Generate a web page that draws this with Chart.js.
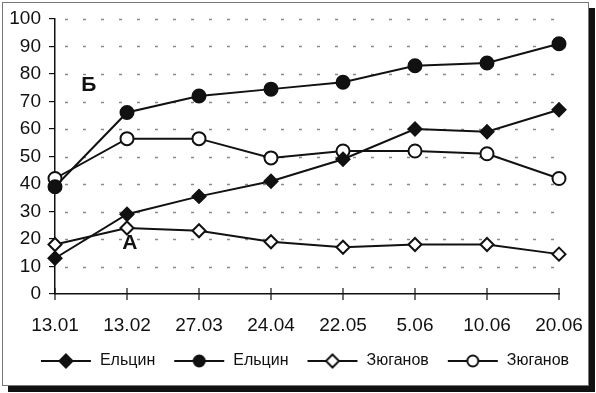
<!DOCTYPE html>
<html>
<head>
<meta charset="utf-8">
<script src="https://cdn.jsdelivr.net/npm/chart.js@4/dist/chart.umd.min.js"></script>
<style>
  html, body { margin: 0; padding: 0; background: #fff; }
  #frame {
    position: absolute; left: 2px; top: 2px;
    width: 585px; height: 382px;
    border: 1px solid #777;
    box-shadow: 6px 6px 0 #111;
    background: #fff;
  }
  canvas { display: block; }
</style>
</head>
<body>
<div id="frame"><canvas id="chart" width="585" height="382"></canvas></div>
<script>
const dates = ['13.01', '13.02', '27.03', '24.04', '22.05', '5.06', '10.06', '20.06'];
const yeltsinA = [13, 29, 35.5, 41, 49, 60, 59, 67];
const yeltsinB = [39, 66, 72, 74.5, 77, 83, 84, 91];
const zyuganovA = [18, 24, 23, 19, 17, 18, 18, 14.5];
const zyuganovB = [42, 56.5, 56.5, 49.5, 52, 52, 51, 42];
const yTicks = [0, 10, 20, 30, 40, 50, 60, 70, 80, 90, 100];
const notes = [
  { text: 'Б', at: 0.47, value: 76 },
  { text: 'А', at: 1.04, value: 18.5 }
];

const ink = '#111';
const fontFam = '"Liberation Sans", Arial, sans-serif';

// small picture for legend: line with marker in middle
const legendIcon = (style, filled) => {
  const c = document.createElement('canvas');
  c.width = 52; c.height = 16;
  const g = c.getContext('2d');
  g.strokeStyle = ink; g.lineWidth = 2;
  g.beginPath(); g.moveTo(1, 8); g.lineTo(51, 8); g.stroke();
  g.fillStyle = filled ? ink : '#fff';
  g.beginPath();
  if (style === 'circle') {
    g.arc(26, 8, 5.5, 0, Math.PI * 2);
  } else {
    g.moveTo(26, 1.5); g.lineTo(32.5, 8); g.lineTo(26, 14.5); g.lineTo(19.5, 8); g.closePath();
  }
  g.fill(); g.stroke();
  return c;
};

const mkSet = (label, data, style, filled) => ({
  label,
  data,
  borderColor: ink,
  borderWidth: 2,
  backgroundColor: filled ? ink : '#fff',
  pointStyle: style,
  pointRadius: 6.5,
  pointBorderWidth: 2,
  pointBorderColor: ink,
  pointBackgroundColor: filled ? ink : '#fff',
  tension: 0,
  icon: legendIcon(style, filled)
});

const extras = {
  id: 'extras',
  afterLayout(chart) {
    // legend sits a bit right of centre in the original
    if (chart.legend) { chart.legend.left += 9; chart.legend.right += 9; }
  },
  beforeDatasetsDraw(chart) {
    const { ctx, scales: { x, y } } = chart;
    ctx.save();
    // dotted horizontal grid
    ctx.strokeStyle = '#8a8a8a'; ctx.lineWidth = 1.6;
    ctx.setLineDash([3, 15]);
    yTicks.filter((v) => v > 0).forEach((v) => {
      const py = Math.round(y.getPixelForValue(v)) + 0.5;
      ctx.beginPath(); ctx.moveTo(x.left + 10, py); ctx.lineTo(x.right, py); ctx.stroke();
    });
    ctx.restore();
  },
  afterDatasetsDraw(chart) {
    const { ctx, scales: { x, y } } = chart;
    ctx.save();
    // tick marks crossing the x axis
    ctx.strokeStyle = ink; ctx.lineWidth = 1.2;
    dates.forEach((_, i) => {
      const px = x.getPixelForValue(i);
      ctx.beginPath(); ctx.moveTo(px, y.bottom - 6); ctx.lineTo(px, y.bottom + 6); ctx.stroke();
    });
    // letters on the plot
    ctx.fillStyle = ink;
    ctx.font = 'bold 21px ' + fontFam;
    ctx.textAlign = 'center'; ctx.textBaseline = 'middle';
    notes.forEach((n) => {
      ctx.fillText(n.text, x.getPixelForValue(n.at), y.getPixelForValue(n.value));
    });
    ctx.restore();
  }
};

new Chart(document.getElementById('chart'), {
  type: 'line',
  data: {
    labels: dates,
    datasets: [
      mkSet('Ельцин', yeltsinA, 'rectRot', true),
      mkSet('Ельцин', yeltsinB, 'circle', true),
      mkSet('Зюганов', zyuganovA, 'rectRot', false),
      mkSet('Зюганов', zyuganovB, 'circle', false)
    ]
  },
  options: {
    responsive: false,
    animation: false,
    layout: { padding: { top: 16, right: 0, left: 0, bottom: 6 } },
    plugins: {
      tooltip: { enabled: false },
      legend: {
        position: 'bottom',
        labels: {
          color: ink,
          font: { family: fontFam, size: 16 },
          usePointStyle: true,
          pointStyleWidth: 52,
          padding: 18,
          generateLabels: (chart) => chart.data.datasets.map((ds, i) => ({
            text: ds.label,
            pointStyle: ds.icon,
            fillStyle: ink,
            strokeStyle: ink,
            lineWidth: 0,
            datasetIndex: i,
            fontColor: ink
          }))
        }
      }
    },
    scales: {
      x: {
        offset: false,
        grid: { display: false },
        border: { display: true, color: ink, width: 1.5 },
        ticks: {
          color: ink,
          padding: 12,
          maxRotation: 0,
          autoSkip: false,
          font: { family: fontFam, size: 19 }
        },
        afterFit: (s) => { s.height = 41; s.paddingLeft = 0; s.paddingRight = 29; }
      },
      y: {
        min: 0,
        max: 100,
        afterBuildTicks: (s) => { s.ticks = yTicks.map((v) => ({ value: v })); },
        grid: {
          drawOnChartArea: false,
          color: ink,
          tickColor: ink,
          tickLength: 6,
          lineWidth: 1.2
        },
        border: { display: true, color: ink, width: 1.5 },
        ticks: {
          color: ink,
          padding: 8,
          autoSkip: false,
          font: { family: fontFam, size: 19 }
        },
        afterFit: (s) => { s.width = 52; s.paddingTop = 0; s.paddingBottom = 0; }
      }
    }
  },
  plugins: [extras]
});
</script>
</body>
</html>
